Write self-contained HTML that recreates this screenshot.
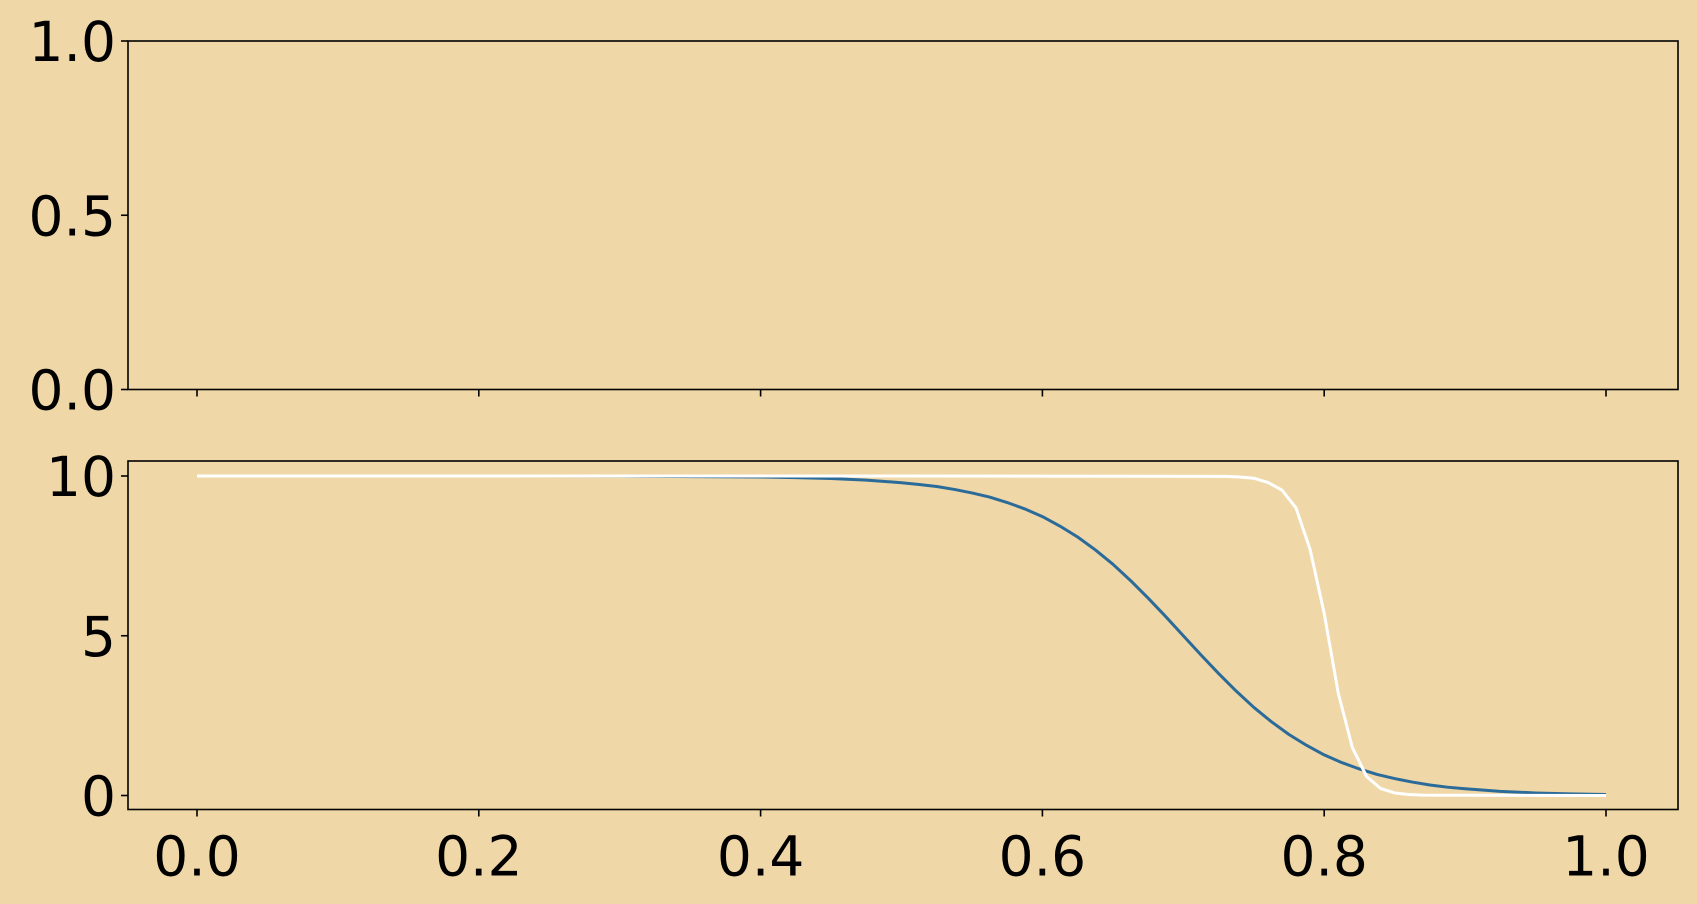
<!DOCTYPE html>
<html><head><meta charset="utf-8"><style>
html,body{margin:0;padding:0;background:#efd7a8;}
svg{display:block;font-family:"DejaVu Sans","Liberation Sans",sans-serif;}
</style></head><body>
<svg id="chart" width="1697" height="904" viewBox="0 0 1697 904" xmlns="http://www.w3.org/2000/svg">
<rect x="0" y="0" width="1697" height="904" fill="#efd7a8"/>
<g id="topAxes"></g>
<g id="botAxes"></g>
</svg>
<script>
const xTicks = [0.0, 0.2, 0.4, 0.6, 0.8, 1.0];
const xTickLabels = ["0.0", "0.2", "0.4", "0.6", "0.8", "1.0"];
const topYTicks = [0.0, 0.5, 1.0];
const topYTickLabels = ["0.0", "0.5", "1.0"];
const botYTicks = [0, 5, 10];
const botYTickLabels = ["0", "5", "10"];
const blueX = [0, 0.2, 0.3, 0.4, 0.425, 0.45, 0.475, 0.5, 0.5125, 0.525, 0.5375, 0.55, 0.5625, 0.575, 0.5875, 0.6, 0.6125, 0.625, 0.6375, 0.65, 0.6625, 0.675, 0.6875, 0.7, 0.7125, 0.725, 0.7375, 0.75, 0.7625, 0.775, 0.7875, 0.8, 0.8125, 0.825, 0.8375, 0.85, 0.8625, 0.875, 0.8875, 0.9, 0.925, 0.95, 0.975, 1.0];
const blueY = [10.0, 10.0, 9.995, 9.97, 9.95, 9.92, 9.87, 9.79, 9.735, 9.67, 9.58, 9.47, 9.34, 9.17, 8.97, 8.73, 8.43, 8.09, 7.69, 7.24, 6.73, 6.18, 5.60, 5.0, 4.40, 3.82, 3.27, 2.76, 2.31, 1.91, 1.57, 1.27, 1.03, 0.83, 0.66, 0.53, 0.42, 0.33, 0.26, 0.21, 0.13, 0.08, 0.05, 0.03];
const whiteX = [0, 0.5, 0.73, 0.74, 0.75, 0.76, 0.77, 0.78, 0.79, 0.80, 0.81, 0.82, 0.83, 0.84, 0.85, 0.86, 0.87, 1.0];
const whiteY = [10.0, 10.0, 9.99, 9.97, 9.93, 9.8, 9.56, 9.0, 7.7, 5.7, 3.2, 1.5, 0.6, 0.22, 0.08, 0.03, 0.01, 0.0];

const NS = "http://www.w3.org/2000/svg";
const L = 128, R = 1678;
const xScale = v => 197 + v * 1409;
const topYScale = v => 389.5 - v * 348.5;
const botYScale = v => 795.5 - v * 31.95;
function mk(tag, attrs, parent){const e=document.createElementNS(NS,tag);for(const k in attrs)e.setAttribute(k,attrs[k]);parent.appendChild(e);return e;}

function axes(g, T, B, yTicks, yLabels, yFn, showX){
  const frame = mk("rect",{x:L,y:T,width:R-L,height:B-T,fill:"none",stroke:"#000","stroke-width":1.6},g);
  
  
  yTicks.forEach((v,i)=>{
    const y=yFn(v);
    const t=mk("line",{x1:L-7,x2:L,y1:y,y2:y,stroke:"#000","stroke-width":1.6},g);
    
    
    const tx=mk("text",{x:L-12,y:y+20,"text-anchor":"end","font-size":55,fill:"#000"},g);
    tx.textContent=yLabels[i];
    
    
  });
  xTicks.forEach((v,i)=>{
    const x=xScale(v);
    const t=mk("line",{x1:x,x2:x,y1:B,y2:B+7,stroke:"#000","stroke-width":1.6},g);
    
    
    if(showX){
      const tx=mk("text",{x:x,y:B+66,"text-anchor":"middle","font-size":55,fill:"#000"},g);
      tx.textContent=xTickLabels[i];
      
      
    }
  });
}
const topG=document.getElementById("topAxes"), botG=document.getElementById("botAxes");
axes(topG,41,389.5,topYTicks,topYTickLabels,topYScale,false);
axes(botG,461,809.5,botYTicks,botYTickLabels,botYScale,true);

function drawLine(xs,ys,color,name){
  const d=xs.map((x,i)=>(i?"L":"M")+xScale(x).toFixed(2)+","+botYScale(ys[i]).toFixed(2)).join("");
  const p=mk("path",{d:d,fill:"none",stroke:color,"stroke-width":3,"stroke-linejoin":"round"},botG);
  
  
}
drawLine(blueX,blueY,"#2b6b99","blue-series-line");
drawLine(whiteX,whiteY,"#ffffff","white-series-line");
</script>
</body></html>
